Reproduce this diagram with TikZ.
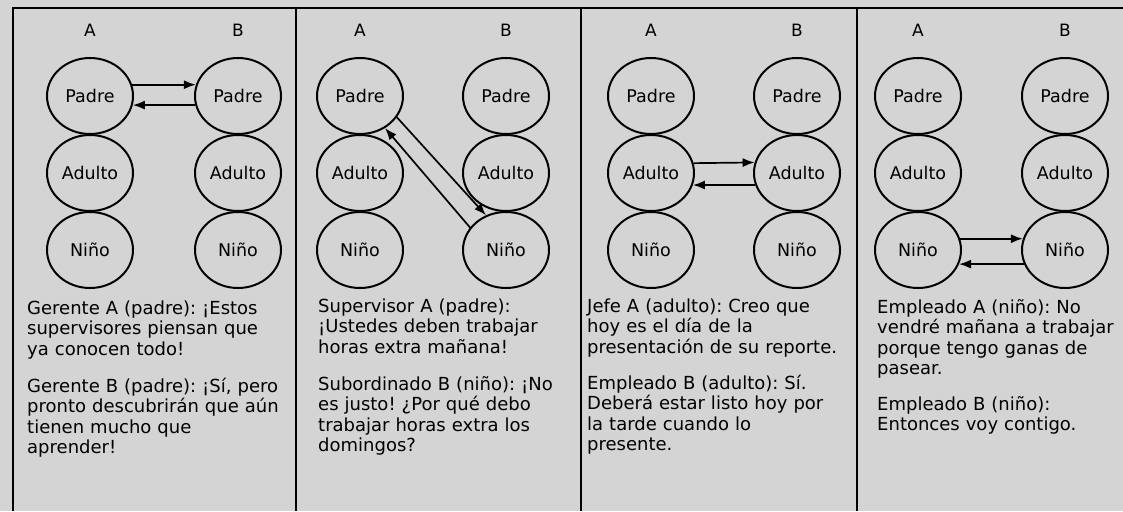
\documentclass[tikz,border=0pt]{standalone}
\usepackage{fontspec}
\setmainfont{DejaVu Sans}
\usetikzlibrary{shapes.geometric,arrows.meta}
\definecolor{paper}{RGB}{212,212,212}
\frenchspacing
\begin{document}
\begin{tikzpicture}[x=1pt,y=-1pt,
  ego/.style={ellipse,draw,line width=2pt,minimum width=86pt,minimum height=76pt,inner sep=0pt,font=\fontsize{17.5}{20}\selectfont},
  colhead/.style={inner sep=0pt,font=\fontsize{17}{18}\selectfont},
  dlg/.style={anchor=base west,inner sep=0pt,align=left,text width=275pt,font=\fontsize{18}{20.5}\selectfont},
  msg/.style={line width=1.7pt,-{Latex[length=12pt,width=9pt]}},
  frame/.style={line width=2pt}]
\useasboundingbox (0,0) rectangle (1123,511);
\fill[paper] (0,0) rectangle (1123,511);
% frame
\draw[frame] (13,511) -- (13,8) -- (1123,8);
\draw[frame] (296,8) -- (296,511);
\draw[frame] (581,8) -- (581,511);
\draw[frame] (857,8) -- (857,511);
% ego states
\foreach \i/\xa/\xb in {1/90/238, 2/360/506, 3/651/797, 4/918/1065} {
  \node[colhead] (hA\i) at (\xa,30) {A};
  \node[colhead] (hB\i) at (\xb,30) {B};
  \node[ego] (pa\i) at (\xa,96) {Padre};
  \node[ego] (aa\i) at (\xa,173) {Adulto};
  \node[ego] (na\i) at (\xa,250) {Niño};
  \node[ego] (pb\i) at (\xb,96) {Padre};
  \node[ego] (ab\i) at (\xb,173) {Adulto};
  \node[ego] (nb\i) at (\xb,250) {Niño};
}
% transactions
\draw[msg] (pa1.15) -- (pb1.165);
\draw[msg] (pb1.-168) -- (pa1.-12);
\draw[msg] (pa2.-30) -- (nb2.120);
\draw[msg] (nb2.148) -- (pa2.-52);
\draw[msg] (aa3.13.5) -- (ab3.166.5);
\draw[msg] (ab3.-164) -- (aa3.-16);
\draw[msg] (na4.15) -- (nb4.165);
\draw[msg] (nb4.-161) -- (na4.-19);
% dialogues
\node[dlg] (t1a) at (27,314) {Gerente A (padre): ¡Estos\\supervisores piensan que\\ya conocen todo!};
\node[dlg] (t1b) at (27,392) {Gerente B (padre): ¡Sí, pero\\pronto descubrirán que aún\\tienen mucho que\\aprender!};
\node[dlg] (t2a) at (318,312) {Supervisor A (padre):\\¡Ustedes deben trabajar\\horas extra mañana!};
\node[dlg] (t2b) at (318,390) {Subordinado B (niño): ¡No\\es justo! ¿Por qué debo\\trabajar horas extra los\\domingos?};
\node[dlg] (t3a) at (587,312) {Jefe A (adulto): Creo que\\hoy es el día de la\\presentación de su reporte.};
\node[dlg] (t3b) at (587,389) {Empleado B (adulto): Sí.\\Deberá estar listo hoy por\\la tarde cuando lo\\presente.};
\node[dlg] (t4a) at (877,313) {Empleado A (niño): No\\vendré mañana a trabajar\\porque tengo ganas de\\pasear.};
\node[dlg] (t4b) at (877,410) {Empleado B (niño):\\Entonces voy contigo.};
\end{tikzpicture}
\end{document}
